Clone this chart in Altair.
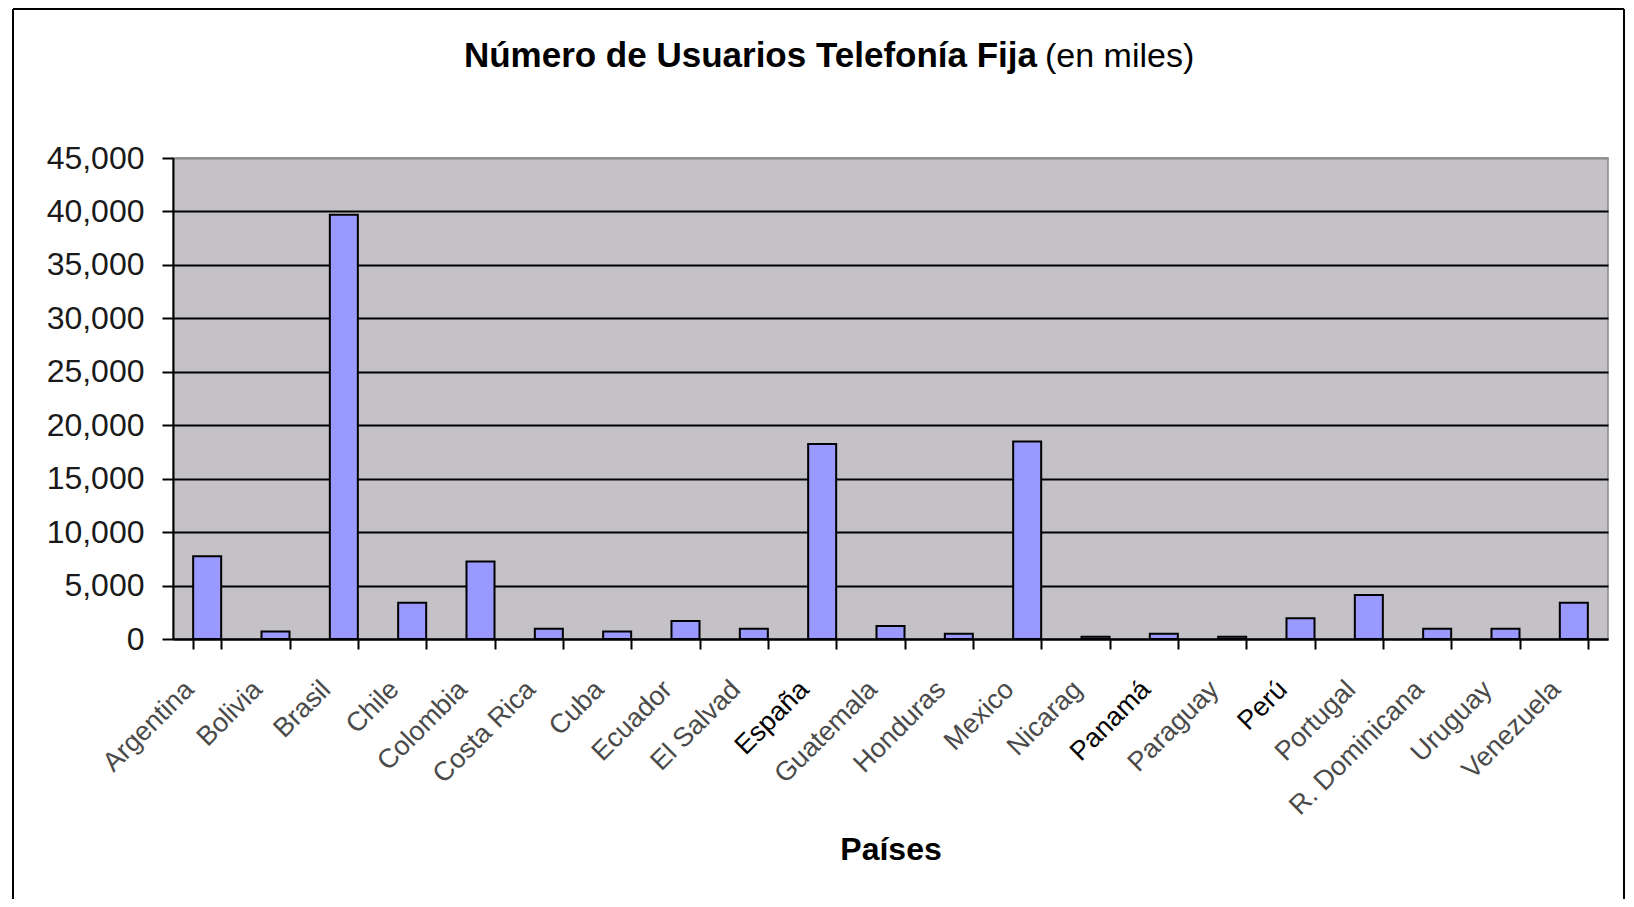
import altair as alt
import pandas as pd

countries = ["Argentina", "Bolivia", "Brasil", "Chile", "Colombia", "Costa Rica",
             "Cuba", "Ecuador", "El Salvador", "España", "Guatemala", "Honduras",
             "Mexico", "Nicaragua", "Panamá", "Paraguay", "Perú", "Portugal",
             "R. Dominicana", "Uruguay", "Venezuela"]
users = [7740, 700, 39700, 3390, 7250, 960, 690, 1680, 950, 18250, 1210, 500,
         18480, 220, 480, 210, 1940, 4120, 950, 950, 3400]
y_ticks = [0, 5000, 10000, 15000, 20000, 25000, 30000, 35000, 40000, 45000]
title_main = "Número de Usuarios Telefonía Fija"
title_unit = "(en miles)"

df = pd.DataFrame({"País": countries, "Usuarios": users})

FONT = "Liberation Sans"
W, H = 1435, 481

bars = alt.Chart(df).mark_bar(color="#9999FF", stroke="black", strokeWidth=2).encode(
    x=alt.X("País:N", sort=countries, title="Países",
            scale=alt.Scale(paddingInner=0.59, paddingOuter=0.295),
            axis=alt.Axis(labelAngle=-45, labelAlign="right", labelBaseline="middle",
                          labelFont=FONT, labelFontSize=27, labelPadding=36, labelOffset=-18,
                          labelColor={"condition": {"test": "indexof(['España','Panamá','Perú'], datum.label) >= 0",
                                                    "value": "black"}, "value": "#4a4a4a"},
                          labelExpr="datum.label == 'El Salvador' ? 'El Salvad' : datum.label == 'Nicaragua' ? 'Nicarag' : datum.label",
                          labelOverlap=False, labelLimit=300,
                          tickBand="extent", tickSize=10, tickColor="black", tickWidth=2,
                          domainColor="black", domainWidth=2, grid=False,
                          titleFont=FONT, titleFontSize=32, titleFontWeight="bold", titleColor="black",
                          titleY=210, titleBaseline="middle")),
    y=alt.Y("Usuarios:Q", title=None,
            scale=alt.Scale(domain=[0, 45000], nice=False),
            axis=alt.Axis(values=y_ticks, format=",d", labelFont=FONT, labelFontSize=32,
                          labelColor="#1a1a1a", labelPadding=18, tickSize=11, tickColor="black",
                          tickWidth=2, domainColor="black", domainWidth=2,
                          grid=True, gridWidth=2,
                          gridColor={"condition": {"test": "datum.value == 45000", "value": "#8a8a8a"},
                                     "value": "black"})),
)

frame_data = pd.DataFrame({"f": [0]})
top_line = alt.Chart(frame_data).mark_rule(color="black", strokeWidth=2).encode(
    x=alt.value(-160), x2=alt.value(1451), y=alt.value(-149))
left_line = alt.Chart(frame_data).mark_rule(color="black", strokeWidth=2).encode(
    x=alt.value(-160), y=alt.value(-149), y2=alt.value(745))
right_line = alt.Chart(frame_data).mark_rule(color="black", strokeWidth=2).encode(
    x=alt.value(1451), y=alt.value(-149), y2=alt.value(745))

title_a = alt.Chart(frame_data).mark_text(
    text=title_main, font=FONT, fontSize=35, fontWeight="bold", color="black",
    align="right", baseline="alphabetic").encode(x=alt.value(864), y=alt.value(-91))
title_b = alt.Chart(frame_data).mark_text(
    text=title_unit, font=FONT, fontSize=34, fontWeight="normal", color="black",
    align="left", baseline="alphabetic").encode(x=alt.value(872), y=alt.value(-91))

chart = alt.layer(bars, top_line, left_line, right_line, title_a, title_b).properties(
    width=W, height=H,
    autosize=alt.AutoSizeParams(type="none"),
    padding={"left": 165, "top": 150, "right": 18, "bottom": 260},
    background="white",
).configure_view(fill="#C4C2C6", stroke="#8a8a8a", strokeWidth=1.5)

chart.save("out.html", embed_options={"renderer": "svg", "actions": False})
